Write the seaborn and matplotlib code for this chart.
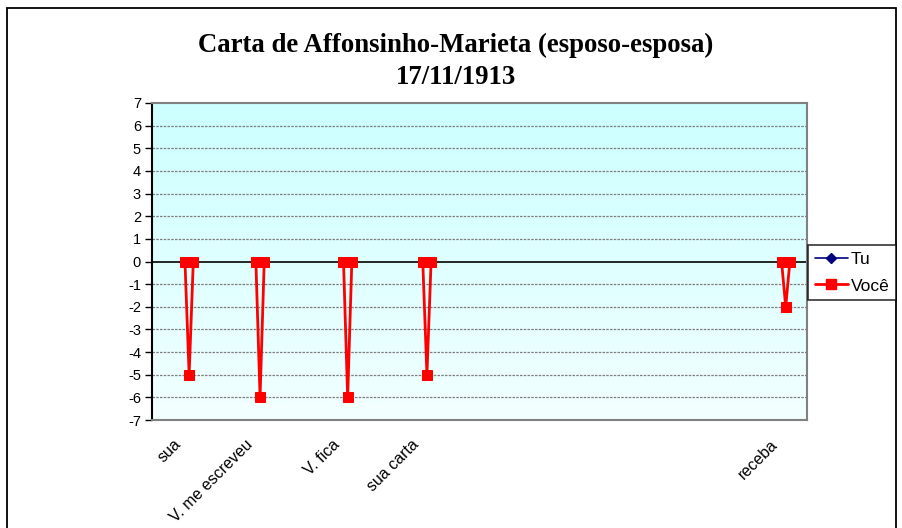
import numpy as np
import pandas as pd
import matplotlib
matplotlib.use("Agg")
import matplotlib.pyplot as plt
import seaborn as sns
from matplotlib.lines import Line2D
from matplotlib.patches import Rectangle

# ---------------- data ----------------
n_categories = 157
word_labels = ["sua", "V. me escreveu", "V. fica", "sua carta", "receba"]
word_index = [7, 24, 45, 64, 150]          # category index of each labelled word
voce_dip = [-5, -6, -6, -5, -2]             # value of the middle point of each word
tu_values = [0, 0, 0, 0, 0]                 # Tu sits on zero at the word edges
y_ticks = list(range(-7, 8))
title_lines = ["Carta de Affonsinho-Marieta (esposo-esposa)", "17/11/1913"]

categories = [""] * n_categories
for i, w in zip(word_index, word_labels):
    categories[i] = w

rows_voce, rows_tu = [], []
for seg, (i, d, t) in enumerate(zip(word_index, voce_dip, tu_values)):
    for k, v in enumerate([0, d, 0]):
        rows_voce.append({"idx": i + k, "val": v, "seg": seg})
    for k in (0, 2):
        rows_tu.append({"idx": i + k, "val": t, "seg": seg})
df_voce = pd.DataFrame(rows_voce)
df_tu = pd.DataFrame(rows_tu)

# ---------------- figure ----------------
sns.set_theme(style="white")
plt.rcParams["font.family"] = ["Liberation Sans", "DejaVu Sans"]
plt.rcParams["text.color"] = "black"
plt.rcParams["xtick.color"] = "black"
plt.rcParams["ytick.color"] = "black"

W, H = 902, 528
fig = plt.figure(figsize=(W / 100, H / 100), dpi=100)
fig.patch.set_facecolor("white")

# outer chart frame
fig.add_artist(Rectangle((7 / W, -0.02), (896 - 7) / W, 1 - 8 / H + 0.02,
                         transform=fig.transFigure, fill=False,
                         edgecolor="black", lw=1.3))

ax = fig.add_axes([152 / W, 1 - 420 / H, (807 - 152) / W, (420 - 103) / H])

x0, x1 = -0.9, n_categories - 0.9

# gradient background (darker cyan at the top)
grad = np.linspace(0, 1, 256).reshape(-1, 1)
cmap = matplotlib.colors.LinearSegmentedColormap.from_list(
    "bg", ["#F2FFFF", "#CCFFFF"])
ax.imshow(grad, extent=(x0, x1, -7, 7), aspect="auto",
          cmap=cmap, zorder=0, origin="lower")

# grid lines
for y in y_ticks:
    if y == 0:
        ax.axhline(0, color="black", lw=1.2, zorder=1)
    elif y != 7:
        ax.axhline(y, color="#7f7f7f", lw=0.9, ls=(0, (2, 1)), zorder=1)

sns.lineplot(data=df_tu, x="idx", y="val", units="seg", estimator=None,
             color="#000080", marker="D", markersize=5, markeredgecolor="#000080",
             lw=1.2, ax=ax, zorder=3)
sns.lineplot(data=df_voce, x="idx", y="val", units="seg", estimator=None,
             color="#FF0000", marker="s", markersize=6.5, markeredgecolor="#FF0000",
             lw=2, ax=ax, zorder=4)

ax.set_xlim(x0, x1)
ax.set_ylim(-7, 7)
ax.set_yticks(y_ticks)
ax.set_yticklabels([str(v) for v in y_ticks], fontsize=10.5)
ax.set_xticks(word_index)
ax.set_xticklabels([""] * len(word_index))
# category labels, rotated 45 degrees, ending just below each word's first point
for i, w in zip(word_index, word_labels):
    ax.annotate(w, xy=(i, 0), xycoords=ax.get_xaxis_transform(),
                xytext=(-6, -22), textcoords="offset pixels",
                rotation=45, ha="right", va="center", rotation_mode="anchor",
                fontsize=11.5, color="black", annotation_clip=False)
ax.set_xlabel("")
ax.set_ylabel("")
ax.tick_params(axis="y", which="both", left=True, length=5, width=1,
               color="black", pad=3, labelcolor="black")
ax.tick_params(axis="x", length=0)
ax.grid(False)

for side in ["top", "right", "bottom"]:
    ax.spines[side].set_color("#808080")
    ax.spines[side].set_linewidth(1.5)
ax.spines["left"].set_color("black")
ax.spines["left"].set_linewidth(1.5)
if ax.get_legend():
    ax.get_legend().remove()

# title
fig.text(456 / W, 1 - 45 / H, title_lines[0], ha="center", va="center",
         fontsize=19.3, fontweight="bold", family=["Liberation Serif"],
         color="black")
fig.text(456 / W, 1 - 77 / H, title_lines[1], ha="center", va="center",
         fontsize=19.3, fontweight="bold", family=["Liberation Serif"],
         color="black")

# legend
handles = [
    Line2D([], [], color="#000080", marker="D", markersize=5, lw=1.2),
    Line2D([], [], color="#FF0000", marker="s", markersize=6.5, lw=2),
]
leg = fig.legend(handles, ["Tu", "Você"], loc="upper left",
                 bbox_to_anchor=(808 / W, 1 - 245 / H), fontsize=12.5,
                 frameon=True, fancybox=False, edgecolor="black",
                 borderpad=0.4, handlelength=1.9, handletextpad=0.15,
                 labelspacing=0.65, borderaxespad=0)
leg.get_frame().set_linewidth(1.2)

fig.savefig("out.png", dpi=100)
